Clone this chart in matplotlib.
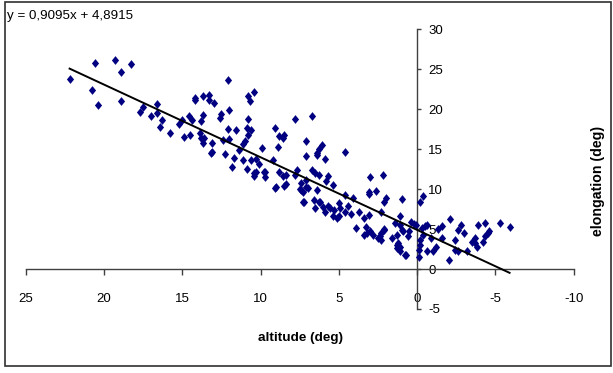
import matplotlib
matplotlib.use("Agg")
import matplotlib.pyplot as plt
from matplotlib.patches import Rectangle
import numpy as np

plt.rcParams['font.family'] = ['Liberation Sans', 'DejaVu Sans']

# altitude (deg) and elongation (deg)
altitude = [
    22.2, 20.6, 19.3, 18.3, 18.9, 20.8, 20.4, 18.9, 17.7, 17.5, 16.6, 16.6, 17.0, 16.3, 16.4, 15.8,
    15.2, 15.0, 14.9, 14.6, 14.4, 14.2, 14.2, 13.7, 13.3, 13.3, 13.0, 13.7, 13.8, 14.5, 13.9, 13.8,
    13.6, 13.7, 13.1, 13.2, 12.1, 10.8, 10.4, 10.7, 12.0, 12.5, 12.6, 10.8, 7.8, 6.7, 12.1, 11.6,
    10.9, 10.6, 10.8, 9.1, 8.8, 8.5, 8.6, 12.4, 12.0, 11.0, 11.1, 7.1, 8.9, 9.9, 11.4, 12.3,
    11.7, 11.1, 10.6, 10.3, 10.1, 9.2, 7.1, 6.4, 11.8, 10.9, 10.4, 9.8, 8.8, 8.4, 7.7, 6.7,
    13.1, 6.4, 6.3, 6.1, 5.9, 4.6, 6.3, 6.5, 5.7, 5.8, 5.4, 7.1, 7.4, 7.4, 7.0, 3.0,
    2.2, 2.6, 3.1, 4.6, 4.1, 2.0, 2.1, 1.0, 6.6, 7.2, 6.3, 5.7, 5.0, 4.4, -0.4, -0.2,
    10.3, 10.4, 9.7, 9.7, 9.1, 8.6, 8.4, 7.8, 7.5, 7.3, 7.1, 7.3, 6.5, 6.2, 6.0, 5.9,
    5.6, 5.4, 5.1, 3.1, 5.3, 4.9, 4.6, 4.2, 5.0, 3.7, 3.4, 3.1, 2.3, 3.9, 3.3, 3.0,
    3.4, 2.8, 2.5, 2.3, 2.1, 1.6, 1.3, 1.4, 1.2, 1.3, 0.8, 0.5, 0.4, 0.1, -0.3, -0.4,
    -0.2, -0.6, -0.1, 1.1, 0.2, -0.5, 1.0, 0.9, 0.6, -0.2, -0.1, -0.6, -1.0, -1.2, -0.9, 0.7,
    1.1, -1.3, -1.6, -1.6, -2.1, -2.0, -2.4, -2.4, -2.6, -2.6, -2.8, -3.0, -3.2, -3.5, -3.7, -3.7,
    -3.8, -3.9, -4.3, -4.2, -4.3, -4.5, -4.6, -5.3, -5.9, 9.0, 8.5, 2.3, 2.4, 1.3, 1.1, 3.2,
    2.1, 1.1, 6.4,
]
elongation = [
    23.8, 25.8, 26.2, 25.7, 24.6, 22.4, 20.5, 21.0, 19.7, 20.3, 20.6, 19.5, 19.1, 18.7, 17.8, 17.0,
    18.1, 18.6, 16.5, 19.1, 18.7, 21.4, 21.1, 21.6, 21.8, 21.1, 20.8, 19.3, 18.5, 16.8, 17.0, 16.4,
    16.4, 15.8, 15.8, 14.5, 23.6, 21.7, 22.1, 21.0, 19.9, 19.4, 18.9, 18.8, 18.8, 19.1, 17.5, 17.4,
    17.6, 17.4, 16.8, 17.6, 16.7, 16.8, 16.4, 16.2, 16.3, 16.0, 15.6, 16.0, 15.3, 15.1, 14.9, 14.4,
    13.9, 13.7, 13.7, 13.8, 13.2, 13.7, 14.2, 14.3, 12.8, 12.5, 12.0, 12.2, 12.2, 11.8, 12.4, 12.4,
    14.7, 14.5, 15.0, 15.5, 13.8, 14.6, 11.8, 12.0, 11.7, 11.0, 10.5, 11.2, 10.8, 9.9, 10.1, 11.5,
    11.8, 9.8, 9.4, 9.3, 8.9, 8.9, 8.4, 8.8, 8.7, 8.4, 8.4, 7.9, 8.3, 7.9, 9.1, 8.4,
    12.2, 11.6, 12.2, 11.5, 10.2, 11.6, 10.6, 11.8, 10.0, 9.7, 10.3, 8.4, 7.6, 8.4, 7.8, 7.1,
    7.6, 6.6, 6.4, 9.6, 7.4, 7.6, 7.2, 6.9, 6.6, 7.2, 6.4, 6.8, 7.2, 5.1, 5.2, 4.7,
    4.3, 4.3, 3.9, 4.5, 4.9, 3.9, 4.3, 5.7, 3.2, 2.6, 1.8, 4.7, 5.9, 5.5, 5.1, 4.3,
    3.6, 5.5, 1.5, 6.6, 5.6, 5.4, 4.9, 4.7, 4.1, 3.0, 2.4, 2.2, 2.2, 2.7, 3.9, 1.8,
    2.8, 5.0, 5.4, 3.9, 6.2, 1.1, 3.6, 2.4, 2.2, 4.9, 5.5, 4.5, 2.2, 3.4, 3.2, 3.9,
    2.8, 5.5, 5.7, 3.4, 4.1, 4.5, 4.7, 5.7, 5.2, 10.3, 10.4, 3.6, 4.1, 3.0, 2.2, 4.5,
    5.0, 5.5, 9.9,
]

slope = 0.9095
intercept = 4.8915
equation_label = "y = 0,9095x + 4,8915"
x_label = "altitude (deg)"
y_label = "elongation (deg)"
x_ticks = [25, 20, 15, 10, 5, 0, -5, -10]
y_ticks = [-5, 0, 5, 10, 15, 20, 25, 30]

fig = plt.figure(figsize=(6.13, 3.73), dpi=100)
ax = fig.add_axes([0.042, 0.1716, 0.894, 0.7498])

# scatter
diamond = [(0, 1), (0.82, 0), (0, -1), (-0.82, 0)]
ax.plot(altitude, elongation, linestyle='none', marker=diamond, markersize=6.3,
        color='#000080', markeredgewidth=0, zorder=3)

# trend line
xa = np.array(altitude)
xl = np.array([xa.min(), xa.max()])
ax.plot(xl, slope * xl + intercept, color='black', lw=1.4, zorder=4)

ax.set_xlim(25, -10)
ax.set_ylim(-5, 30)

for s in ['top', 'left']:
    ax.spines[s].set_visible(False)
ax.spines['bottom'].set_position(('data', 0))
ax.spines['right'].set_position(('data', 0))
for s in ['bottom', 'right']:
    ax.spines[s].set_color('#404040')
    ax.spines[s].set_linewidth(1.0)

ax.set_xticks(x_ticks)
ax.set_xticklabels([str(t) for t in x_ticks])
ax.set_yticks(y_ticks)
ax.set_yticklabels([str(t) for t in y_ticks])
ax.yaxis.set_ticks_position('right')
ax.xaxis.set_ticks_position('bottom')
ax.tick_params(axis='x', direction='out', length=4, width=1, color='#404040',
               pad=13, labelsize=9.5)
ax.tick_params(axis='y', direction='out', length=3, width=1, color='#404040',
               pad=5, labelsize=9.5)

fig.text(7 / 613, 1 - 16.5 / 373, equation_label, fontsize=9.6, ha='left', va='center')
fig.text(300 / 613, 1 - 338 / 373, x_label, fontsize=9.7, fontweight='bold',
         ha='center', va='center')
fig.text(598 / 613, 1 - 181 / 373, y_label, fontsize=10.2, fontweight='bold',
         ha='center', va='center', rotation=90)

fig.patches.append(Rectangle((5 / 613, 1 - 366 / 373), 606 / 613, 364 / 373,
                             transform=fig.transFigure, fill=False,
                             edgecolor='#303030', lw=1.2))

fig.savefig('out.png', dpi=100)
